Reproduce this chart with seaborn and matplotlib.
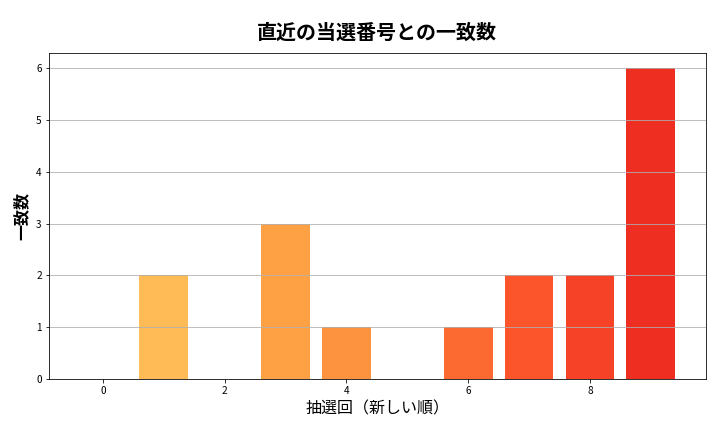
import numpy as np
import pandas as pd
import matplotlib
matplotlib.use("Agg")
import matplotlib.pyplot as plt
import seaborn as sns

plt.rcParams['font.family'] = ['Noto Sans CJK JP', 'DejaVu Sans']

draws = [0, 1, 2, 3, 4, 5, 6, 7, 8, 9]
matches = [0, 2, 0, 3, 1, 0, 1, 2, 2, 6]

colors = [plt.cm.YlOrRd(v) for v in np.linspace(0.3, 0.7, len(draws))]
df = pd.DataFrame({"draw": draws, "match": matches})

fig, ax = plt.subplots(figsize=(10, 6), dpi=72)
sns.barplot(data=df, x="draw", y="match", hue="draw", palette=colors,
            native_scale=True, legend=False, ax=ax, width=0.8, saturation=1)
ax.grid(axis='y', color='#b0b0b0', linewidth=0.8)
ax.set_xlim(-0.89, 9.9)
ax.set_ylim(0, 6.3)
ax.set_title("直近の当選番号との一致数", fontsize=20, fontweight='bold', pad=14)
ax.set_xlabel("抽選回（新しい順）", fontsize=16, labelpad=4)
ax.set_ylabel("一致数", fontsize=16, fontweight='bold', labelpad=6)
ax.tick_params(labelsize=10)
fig.subplots_adjust(left=0.0676, right=0.980, top=0.878, bottom=0.1227)
fig.savefig("out.png", dpi=72)
